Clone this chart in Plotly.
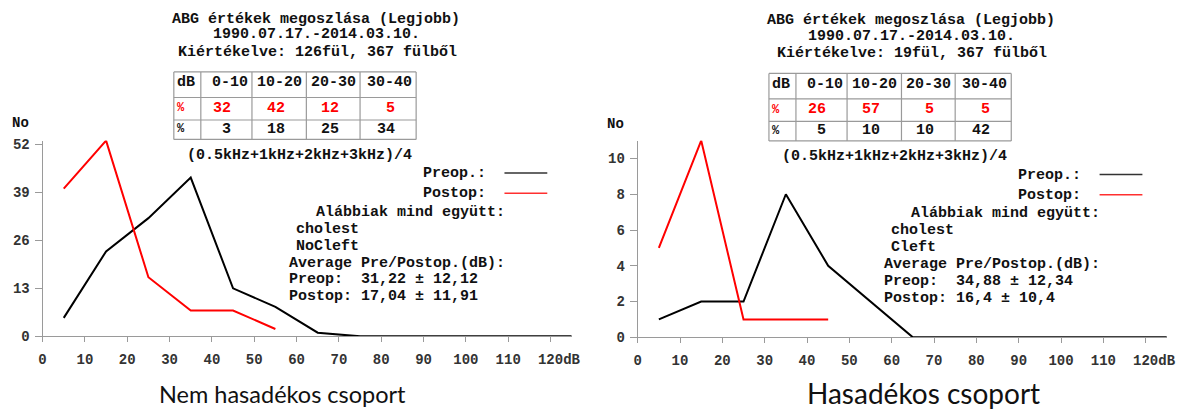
import plotly.graph_objects as go

# ---------------- data ----------------
x_db = [5, 15, 25, 35, 45, 55, 65, 75, 85, 95, 105, 115, 125]
x_tick_vals = [0, 10, 20, 30, 40, 50, 60, 70, 80, 90, 100, 110, 120]
x_tick_text = ["0", "10", "20", "30", "40", "50", "60", "70", "80", "90", "100", "110", "\u00a0\u00a0120dB"]

left_preop = [5, 23, 32, 43, 13, 8, 1, 0, 0, 0, 0, 0, 0]
left_postop = [40, 53, 16, 7, 7, 2]
left_y_ticks = [0, 13, 26, 39, 52]
left_y_max = 53

right_preop = [1, 2, 2, 8, 4, 2, 0, 0, 0, 0, 0, 0, 0]
right_postop = [5, 11, 1, 1, 1]
right_y_ticks = [0, 2, 4, 6, 8, 10]
right_y_max = 11

table_header = ["dB", "0-10", "10-20", "20-30", "30-40"]
left_post_pct = ["32", "42", "12", "5"]
left_pre_pct = ["3", "18", "25", "34"]
right_post_pct = ["26", "57", "5", "5"]
right_pre_pct = ["5", "10", "10", "42"]

title_line1 = "ABG értékek megoszlása (Legjobb)"
title_line2 = "1990.07.17.-2014.03.10."
left_title3 = "Kiértékelve: 126fül, 367 fülből"
right_title3 = "Kiértékelve: 19fül, 367 fülből"
formula = "(0.5kHz+1kHz+2kHz+3kHz)/4"
left_info = ["cholest", "NoCleft"]
right_info = ["cholest", "Cleft"]
left_stats = ["Preop:\u00a0\u00a031,22 ± 12,12", "Postop: 17,04 ± 11,91"]
right_stats = ["Preop:\u00a0\u00a034,88 ± 12,34", "Postop: 16,4 ± 10,4"]
left_caption = "Nem hasadékos csoport"
right_caption = "Hasadékos csoport"

# ---------------- layout helpers ----------------
W, H = 1188, 414
MONO = "Liberation Mono"
GRAY = "#9a9a9a"
PAD = 3  # compensation for annotation padding on left-anchored text


def px(x):
    return x / W


def py(y):
    return 1 - y / H


fig = go.Figure()
annotations = []
shapes = []


def ann(text, x, y, anchor="left", size=15, color="#111", family=MONO, weight="bold"):
    if anchor == "left":
        x -= PAD
    elif anchor == "right":
        x += PAD - 1
    annotations.append(dict(
        text=text, x=px(x), y=py(y), xref="paper", yref="paper",
        xanchor=anchor, yanchor="middle", showarrow=False,
        font=dict(family=family, size=size, color=color, weight=weight),
    ))


def hline(x0, x1, y, color=GRAY, width=1.2):
    shapes.append(dict(type="line", xref="paper", yref="paper",
                       x0=px(x0), x1=px(x1), y0=py(y), y1=py(y),
                       line=dict(color=color, width=width)))


def vline(x, y0, y1, color=GRAY, width=1.2):
    shapes.append(dict(type="line", xref="paper", yref="paper",
                       x0=px(x), x1=px(x), y0=py(y0), y1=py(y1),
                       line=dict(color=color, width=width)))


def panel(dx, dy, title3, post_pct, pre_pct, info, stats):
    # titles
    ann(title_line1, 315.5 + dx, 16.5 + dy, "center")
    ann(title_line2, 316 + dx, 32.5 + dy, "center")
    ann(title3, 316.5 + dx, 50.5 + dy, "center")
    # table grid
    cols = [171.7, 199, 250.7, 305.7, 360, 416.7]
    rows = [71, 97.3, 120.5, 140.5]
    for r in rows:
        hline(cols[0] + dx, cols[-1] + dx, r + dy)
    for c in cols:
        vline(c + dx, rows[0] + dy, rows[-1] + dy)
    # header
    ann(table_header[0], 176 + dx, 82 + dy, "left")
    for i, t in enumerate(table_header[1:]):
        ann(t, cols[i + 2] - 4 + dx, 82 + dy, "right")
    ann("%", 176 + dx, 108.5 + dy, "left", 12, "#ff0000")
    ann("%", 176 + dx, 130 + dy, "left", 12, "#111")
    for i, v in enumerate(post_pct):
        ann(v, cols[i + 2] - 21.5 + dx, 108.5 + dy, "right", 15, "#ff0000")
    for i, v in enumerate(pre_pct):
        ann(v, cols[i + 2] - 21.5 + dx, 130 + dy, "right", 15, "#111")
    # formula
    ann(formula, 299 + dx, 157 + dy, "center")
    # legend
    ann("Preop.:", 425 + dx, 176 + dy)
    ann("Postop:", 425 + dx, 196.7 + dy)
    hline(506 + dx, 549.3 + dx, 175 + dy, "#333", 1.5)
    hline(506 + dx, 549.3 + dx, 196 + dy, "#ff3030", 1.5)
    # info block
    ann("Alábbiak mind együtt:", 316.7 + dx, 215.7 + dy)
    ann(info[0], 296 + dx, 233.3 + dy)
    ann(info[1], 296 + dx, 250.7 + dy)
    ann("Average Pre/Postop.(dB):", 289.3 + dx, 268.3 + dy)
    ann(stats[0], 289.3 + dx, 285 + dy)
    ann(stats[1], 289.3 + dx, 302.7 + dy)
    # axis unit label
    ann("No", 9 + dx, 123.5 + dy, "left", 14)


panel(0, 0, left_title3, left_post_pct, left_pre_pct, left_info, left_stats)
panel(601.7, 1.5, right_title3, right_post_pct, right_pre_pct, right_info, right_stats)

ann(left_caption, 158, 403, "left", 23.5, "#111", "Lato", "normal")
ann(right_caption, 813, 401.5, "left", 28, "#111", "Lato", "normal")

# ---------------- traces ----------------
fig.add_trace(go.Scatter(x=x_db, y=left_preop, mode="lines", line=dict(color="#000", width=2),
                         xaxis="x", yaxis="y", cliponaxis=False, hoverinfo="skip"))
fig.add_trace(go.Scatter(x=x_db[:len(left_postop)], y=left_postop, mode="lines",
                         line=dict(color="#ff0000", width=2),
                         xaxis="x", yaxis="y", cliponaxis=False, hoverinfo="skip"))
fig.add_trace(go.Scatter(x=x_db, y=right_preop, mode="lines", line=dict(color="#000", width=2),
                         xaxis="x2", yaxis="y2", cliponaxis=False, hoverinfo="skip"))
fig.add_trace(go.Scatter(x=x_db[:len(right_postop)], y=right_postop, mode="lines",
                         line=dict(color="#ff0000", width=2),
                         xaxis="x2", yaxis="y2", cliponaxis=False, hoverinfo="skip"))

tickfont = dict(family=MONO, size=14, color="#333", weight="bold")


def xaxis(domain, anchor):
    return dict(domain=domain, range=[0, 125], anchor=anchor,
                tickmode="array", tickvals=x_tick_vals, ticktext=x_tick_text,
                tickangle=0,
                ticks="outside", ticklen=5, tickcolor=GRAY, tickwidth=1,
                ticklabelstandoff=5,
                showline=True, linecolor=GRAY, linewidth=1,
                showgrid=False, zeroline=False, tickfont=tickfont, fixedrange=True)


def yaxis(domain, anchor, ymax, ticks):
    return dict(domain=domain, range=[0, ymax], anchor=anchor,
                tickmode="array", tickvals=ticks,
                ticks="outside", ticklen=7, tickcolor=GRAY, tickwidth=1,
                ticklabelstandoff=2,
                showline=True, linecolor=GRAY, linewidth=1,
                showgrid=False, zeroline=False, tickfont=tickfont, fixedrange=True)


fig.update_layout(
    width=W, height=H,
    margin=dict(l=0, r=0, t=0, b=0),
    paper_bgcolor="white", plot_bgcolor="white",
    showlegend=False,
    xaxis=xaxis([px(39), px(574)], "y"),
    yaxis=yaxis([py(343.3), py(141.7)], "x", left_y_max, left_y_ticks),
    xaxis2=xaxis([px(640.7), px(1175.7)], "y2"),
    yaxis2=yaxis([py(344.3), py(141.7)], "x2", right_y_max, right_y_ticks),
    annotations=annotations,
    shapes=shapes,
)

fig.write_html("out.html", config={"displayModeBar": False})
